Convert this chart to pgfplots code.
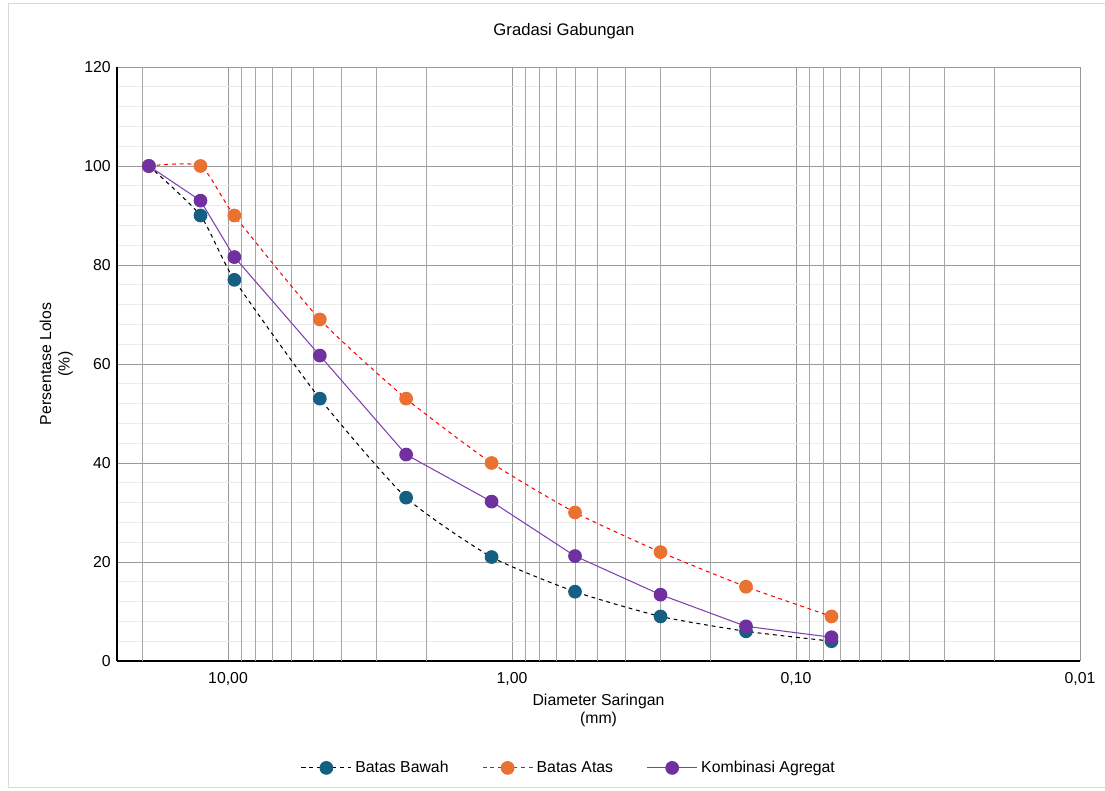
\documentclass[border=0pt]{standalone}
\usepackage{fontspec}
\setmainfont{Liberation Sans}
\usepackage{pgfplots}
\pgfplotsset{compat=1.18}
\definecolor{cBawah}{HTML}{156082}
\definecolor{cAtas}{HTML}{E97132}
\definecolor{cKomb}{HTML}{7030A0}
\definecolor{cKombL}{HTML}{8040B0}
\begin{document}
\begin{tikzpicture}
\useasboundingbox (0,0) rectangle (22.1cm,15.82cm);
\draw[gray!30] (0.16cm,0.08cm) rectangle (22.3cm,15.76cm);
\node[font=\fontsize{9.5}{11}\selectfont] at (11.28cm,15.2cm) {Gradasi Gabungan};
\begin{axis}[
  at={(2.34cm,2.6cm)}, anchor=south west,
  scale only axis, width=19.26cm, height=11.88cm,
  xmode=log, x dir=reverse, xmin=0.01, xmax=24.6,
  ymin=0, ymax=120, ytick={0,20,...,120}, minor y tick num=4,
  xtick={10,1,0.1,0.01}, xticklabels={{10,00},{1,00},{0,10},{0,01}},
  xminorgrids=false, xmajorgrids=true, ymajorgrids=true, yminorgrids=true,
  minor x tick num=0,
  major grid style={draw=black!40, line width=0.5pt},
  minor grid style={draw=black!8, line width=0.5pt},
  extra x ticks={20,9,8,7,6,5,4,3,2,0.9,0.8,0.7,0.6,0.5,0.4,0.3,0.2,0.09,0.08,0.07,0.06,0.05,0.04,0.03,0.02},
  extra x tick labels={},
  extra x tick style={grid=major, major grid style={draw=black!35, line width=0.5pt}},
  axis x line*=bottom, axis y line*=left,
  axis line style={black, line width=0.7pt, -},
  tick style={draw=none},
  tick label style={font=\fontsize{9}{10}\selectfont},
  /pgf/number format/assume math mode=true,
  xticklabel style={yshift=-0.1cm},
  xlabel={Diameter Saringan\\(mm)},
  xlabel style={align=center, font=\fontsize{9}{10.5}\selectfont, at={(axis description cs:0.5,-0.083)}, anchor=center},
  ylabel={Persentase Lolos\\(\%)},
  ylabel style={align=center, font=\fontsize{9}{10.5}\selectfont, at={(axis description cs:-0.063,0.5)}, anchor=center, rotate=0},
  legend style={at={(0.47,-0.18)}, anchor=center, draw=none, legend columns=3,
    font=\fontsize{9}{10}\selectfont,
    /tikz/every even column/.append style={column sep=0.6cm}},
  legend image code/.code={\draw[mark repeat=2,mark phase=2,#1] plot coordinates {(0cm,0cm)(0.5cm,0cm)(1.0cm,0cm)};},
]
\addplot[black, line width=0.6pt, dash pattern=on 2.2pt off 2.2pt, smooth, tension=0.35,
  mark=*, mark size=3.6pt, mark options={solid, fill=cBawah, draw=cBawah}]
  coordinates {(19,100) (12.5,90) (9.5,77) (4.75,53) (2.36,33) (1.18,21) (0.6,14) (0.3,9) (0.15,6) (0.075,4)};
\addlegendentry{Batas Bawah}
\addplot[red, line width=0.6pt, dash pattern=on 2.2pt off 2.2pt, smooth, tension=0.35,
  mark=*, mark size=3.6pt, mark options={solid, fill=cAtas, draw=cAtas}]
  coordinates {(19,100) (12.5,100) (9.5,90) (4.75,69) (2.36,53) (1.18,40) (0.6,30) (0.3,22) (0.15,15) (0.075,9)};
\addlegendentry{Batas Atas}
\addplot[cKombL, line width=0.6pt,
  mark=*, mark size=3.6pt, mark options={solid, fill=cKomb, draw=cKomb}]
  coordinates {(19,100) (12.5,93) (9.5,81.6) (4.75,61.7) (2.36,41.7) (1.18,32.2) (0.6,21.2) (0.3,13.4) (0.15,7.0) (0.075,4.8)};
\addlegendentry{Kombinasi Agregat}
\end{axis}
\end{tikzpicture}
\end{document}
